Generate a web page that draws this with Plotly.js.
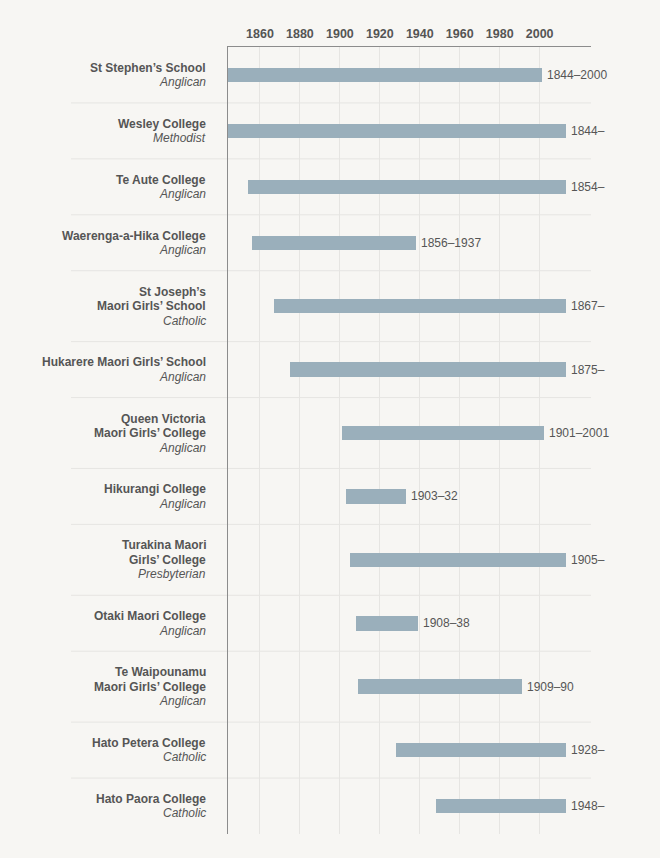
<!DOCTYPE html>
<html>
<head>
<meta charset="utf-8">
<script src="https://cdn.plot.ly/plotly-3.0.1.min.js"></script>
<style>
  html, body { margin: 0; padding: 0; background: #f7f6f3; }
  #chart { width: 660px; height: 858px; }
</style>
</head>
<body>
<div id="chart"></div>
<script>
// ---- Data ----
const schools = [
  "St Stephen’s School",
  "Wesley College",
  "Te Aute College",
  "Waerenga-a-Hika College",
  "St Joseph’s\nMaori Girls’ School",
  "Hukarere Maori Girls’ School",
  "Queen Victoria\nMaori Girls’ College",
  "Hikurangi College",
  "Turakina Maori\nGirls’ College",
  "Otaki Maori College",
  "Te Waipounamu\nMaori Girls’ College",
  "Hato Petera College",
  "Hato Paora College"
];
const denominations = [
  "Anglican", "Methodist", "Anglican", "Anglican", "Catholic", "Anglican",
  "Anglican", "Anglican", "Presbyterian", "Anglican", "Anglican", "Catholic", "Catholic"
];
const opened = [1844, 1844, 1854, 1856, 1867, 1875, 1901, 1903, 1905, 1908, 1909, 1928, 1948];
const closed = [2000, null, null, 1937, null, null, 2001, 1932, null, 1938, 1990, null, null];
const periodLabels = [
  "1844–2000", "1844–", "1854–", "1856–1937", "1867–", "1875–",
  "1901–2001", "1903–32", "1905–", "1908–38", "1909–90", "1928–", "1948–"
];
const currentYear = 2012;
const tickYears = [1860, 1880, 1900, 1920, 1940, 1960, 1980, 2000];

// ---- Layout helpers ----
const textColor = "#555555";
const font = "Liberation Sans, Arial, Helvetica, sans-serif";
const lineH = 14.5;
const lineCounts = schools.map(s => s.split("\n").length + 1);
const rowHeights = lineCounts.map(n => 26 + 15 * n);
const centers = [], bounds = [];
let acc = 0;
rowHeights.forEach((h, i) => {
  centers.push(acc + h / 2);
  acc += h;
  if (i < rowHeights.length - 1) bounds.push(acc);
});
const total = acc;

const ends = opened.map((o, i) => (closed[i] === null ? currentYear : closed[i]) + 1);

const trace = {
  type: "bar",
  orientation: "h",
  y: centers,
  base: opened,
  x: ends.map((e, i) => e - opened[i]),
  width: 14.5,
  marker: { color: "#9aafbb", line: { width: 0 } },
  hovertext: schools.map((s, i) => s.replace("\n", " ") + " (" + periodLabels[i] + ")"),
  hoverinfo: "text"
};

const annotations = [];
schools.forEach((s, i) => {
  const lines = s.split("\n").map(l => "<b>" + l + "</b>");
  lines.push("<i>" + denominations[i] + "</i>");
  const n = lines.length;
  lines.forEach((t, k) => {
    annotations.push({
      xref: "paper", yref: "y", x: 0, y: centers[i],
      xanchor: "right", yanchor: "middle", xshift: -22,
      yshift: -((k - (n - 1) / 2) * lineH),
      text: t, showarrow: false, borderpad: 0, borderwidth: 0,
      font: { family: font, size: 12, color: textColor }
    });
  });
  annotations.push({
    xref: "x", yref: "y", x: ends[i], y: centers[i],
    xanchor: "left", yanchor: "middle", xshift: 5,
    text: periodLabels[i], showarrow: false, borderpad: 0, borderwidth: 0,
    font: { family: font, size: 12, color: textColor }
  });
});

const shapes = bounds.map(b => ({
  type: "line", xref: "paper", yref: "y",
  x0: (71 - 228) / 363, x1: 1, y0: b, y1: b,
  line: { color: "#e6e5e2", width: 1 }, layer: "below"
}));

const layout = {
  width: 660, height: 858,
  margin: { l: 228, r: 69, t: 47, b: 24 },
  paper_bgcolor: "#f7f6f3",
  plot_bgcolor: "#f7f6f3",
  showlegend: false,
  bargap: 0,
  xaxis: {
    side: "top",
    range: [1844, 2025.7],
    tickvals: tickYears,
    ticktext: tickYears.map(String),
    ticks: "",
    ticklabelstandoff: 3,
    showgrid: true, gridcolor: "#e6e5e2", gridwidth: 1,
    zeroline: false,
    showline: true, linecolor: "#8c8c8c", linewidth: 1,
    tickfont: { family: font, size: 12.5, color: textColor, weight: "bold" },
    fixedrange: true
  },
  yaxis: {
    range: [total, 0],
    showticklabels: false, ticks: "",
    showgrid: false, zeroline: false,
    showline: true, linecolor: "#8c8c8c", linewidth: 1,
    fixedrange: true
  },
  annotations: annotations,
  shapes: shapes
};

Plotly.newPlot("chart", [trace], layout, { displayModeBar: false, staticPlot: true });
</script>
</body>
</html>
